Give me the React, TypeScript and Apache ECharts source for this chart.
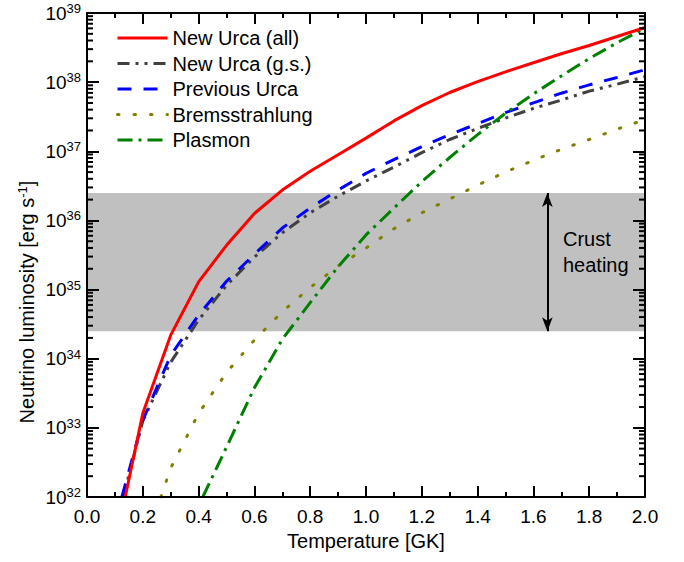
import React, { useEffect, useRef } from "react";
import * as echarts from "echarts";

// Temperature [GK] vs neutrino luminosity [erg s^-1]
const newUrcaAll: [number, number][] = [
  [0.137, 1.0e32], [0.2, 1.62e33], [0.3, 2.19e34], [0.4, 1.29e35], [0.5, 4.37e35],
  [0.6, 1.26e36], [0.7, 2.75e36], [0.8, 5.13e36], [0.9, 8.91e36], [1.0, 1.55e37],
  [1.1, 2.75e37], [1.2, 4.57e37], [1.3, 7.08e37], [1.4, 1.02e38], [1.5, 1.41e38],
  [1.6, 1.91e38], [1.7, 2.57e38], [1.8, 3.39e38], [1.9, 4.57e38], [2.0, 6.17e38],
];
const newUrcaGs: [number, number][] = [
  [0.13, 1.0e32], [0.2, 1.26e33], [0.3, 8.91e33], [0.4, 3.63e34], [0.5, 1.15e35],
  [0.6, 2.95e35], [0.7, 6.61e35], [0.8, 1.29e36], [0.9, 2.24e36], [1.0, 3.72e36],
  [1.1, 5.89e36], [1.2, 9.55e36], [1.3, 1.48e37], [1.4, 2.14e37], [1.5, 3.02e37],
  [1.6, 4.17e37], [1.7, 5.5e37], [1.8, 7.41e37], [1.9, 9.33e37], [2.0, 1.2e38],
];
const previousUrca: [number, number][] = [
  [0.125, 1.0e32], [0.2, 1.29e33], [0.3, 1.12e34], [0.4, 4.27e34], [0.5, 1.32e35],
  [0.6, 3.24e35], [0.7, 7.76e35], [0.8, 1.51e36], [0.9, 2.75e36], [1.0, 4.79e36],
  [1.1, 7.59e36], [1.2, 1.17e37], [1.3, 1.74e37], [1.4, 2.51e37], [1.5, 3.63e37],
  [1.6, 5.01e37], [1.7, 6.92e37], [1.8, 9.12e37], [1.9, 1.17e38], [2.0, 1.51e38],
];
const bremsstrahlung: [number, number][] = [
  [0.265, 1.0e32], [0.3, 2.63e32], [0.4, 1.62e33], [0.5, 6.31e33], [0.6, 1.86e34],
  [0.7, 4.79e34], [0.8, 1.07e35], [0.9, 2.19e35], [1.0, 3.98e35], [1.1, 7.59e35],
  [1.2, 1.29e36], [1.3, 2.04e36], [1.4, 3.24e36], [1.5, 5.01e36], [1.6, 7.41e36],
  [1.7, 1.07e37], [1.8, 1.48e37], [1.9, 2.09e37], [2.0, 2.88e37],
];
const plasmon: [number, number][] = [
  [0.415, 1.0e32], [0.5, 5.25e32], [0.6, 3.8e33], [0.7, 1.91e34], [0.8, 6.46e34],
  [0.9, 2.14e35], [1.0, 6.17e35], [1.1, 1.51e36], [1.2, 3.63e36], [1.3, 8.13e36],
  [1.4, 1.74e37], [1.5, 3.55e37], [1.6, 6.76e37], [1.7, 1.23e38], [1.8, 2.19e38],
  [1.9, 3.72e38], [2.0, 6.03e38],
];

const crustHeatingRange = [2.5e34, 2.5e36];
const crustArrowT = 1.65;
const xRange = [0, 2];
const yRange = [1e32, 1e39];
const seriesNames = ["New Urca (all)", "New Urca (g.s.)", "Previous Urca", "Bremsstrahlung", "Plasmon"];

const FONT = '"Liberation Sans", Arial, Helvetica, sans-serif';

export default function App() {
  const ref = useRef<HTMLDivElement>(null);
  useEffect(() => {
    document.body.style.margin = "0";
    if (!ref.current) return;
    const chart = echarts.init(ref.current, undefined, { renderer: "svg" });

    // minor log ticks 2..9 x 10^k
    const minorTicks: number[][] = [];
    for (let k = 32; k < 39; k++) {
      for (let m = 2; m <= 9; m++) minorTicks.push([0, m * Math.pow(10, k)]);
    }

    const lineBase = { type: "line", symbol: "none", showSymbol: false, z: 4, silent: true };

    const option: any = {
      animation: false,
      grid: { left: 87, top: 13, width: 558, height: 484, containLabel: false },
      legend: {
        orient: "vertical",
        left: 111,
        top: 23,
        itemWidth: 50,
        itemHeight: 20,
        itemGap: 5.5,
        selectedMode: false,
        data: seriesNames,
        itemStyle: { opacity: 0 },
        lineStyle: { width: 3 },
        textStyle: { fontSize: 20, fontFamily: FONT, color: "#000" },
      },
      xAxis: [
        {
          type: "value",
          min: xRange[0],
          max: xRange[1],
          interval: 0.2,
          position: "bottom",
          name: "Temperature [GK]",
          nameLocation: "middle",
          nameGap: 32,
          nameTextStyle: { fontSize: 20, fontFamily: FONT, color: "#000" },
          axisLine: { onZero: false, lineStyle: { color: "#000", width: 2 } },
          axisTick: { inside: true, length: 11, lineStyle: { color: "#000", width: 2 } },
          minorTick: { show: true, splitNumber: 2, length: 5, lineStyle: { color: "#000", width: 2 } },
          axisLabel: {
            fontSize: 19,
            fontFamily: FONT,
            color: "#000",
            margin: 10,
            formatter: (v: number) => v.toFixed(1),
          },
          splitLine: { show: false },
          z: 6,
        },
        {
          type: "value",
          min: xRange[0],
          max: xRange[1],
          interval: 0.2,
          position: "top",
          axisLine: { onZero: false, lineStyle: { color: "#000", width: 2 } },
          axisTick: { inside: true, length: 11, lineStyle: { color: "#000", width: 2 } },
          minorTick: { show: true, splitNumber: 2, length: 5, lineStyle: { color: "#000", width: 2 } },
          axisLabel: { show: false },
          splitLine: { show: false },
          z: 6,
        },
      ],
      yAxis: [
        {
          type: "log",
          logBase: 10,
          min: yRange[0],
          max: yRange[1],
          splitNumber: 7,
          position: "left",
          axisLine: { onZero: false, lineStyle: { color: "#000", width: 2 } },
          axisTick: { inside: true, length: 12, lineStyle: { color: "#000", width: 2 } },
          axisLabel: {
            margin: 6,
            color: "#000",
            fontFamily: FONT,
            formatter: (v: number) => `{a|10}{b|${Math.round(Math.log10(v))}}`,
            rich: {
              a: { fontSize: 19, fontFamily: FONT, color: "#000", lineHeight: 22 },
              b: { fontSize: 13, fontFamily: FONT, color: "#000", verticalAlign: "top", lineHeight: 13, padding: [0, 0, 12, 0] },
            },
          },
          splitLine: { show: false },
          z: 6,
        },
        {
          type: "log",
          logBase: 10,
          min: yRange[0],
          max: yRange[1],
          splitNumber: 7,
          position: "right",
          axisLine: { onZero: false, lineStyle: { color: "#000", width: 2 } },
          axisTick: { inside: true, length: 12, lineStyle: { color: "#000", width: 2 } },
          axisLabel: { show: false },
          splitLine: { show: false },
          z: 6,
        },
      ],
      graphic: [
        {
          type: "text",
          x: 563,
          y: 252,
          z: 10,
          style: {
            text: "Crust\nheating",
            fontSize: 20,
            fontFamily: FONT,
            lineHeight: 26,
            fill: "#000",
            align: "left",
            verticalAlign: "middle",
          },
        },
        {
          type: "text",
          x: 27,
          y: 302,
          rotation: Math.PI / 2,
          z: 10,
          style: {
            text: "{n|Neutrino luminosity [erg s}{s|-1}{n|]}",
            fill: "#000",
            align: "center",
            verticalAlign: "middle",
            rich: {
              n: { fontSize: 20, fontFamily: FONT, fill: "#000", lineHeight: 22 },
              s: { fontSize: 13, fontFamily: FONT, fill: "#000", verticalAlign: "top", lineHeight: 13, padding: [0, 0, 10, 0] },
            },
          },
        },
      ],
      series: [
        {
          type: "line",
          name: "band",
          data: [],
          z: 1,
          silent: true,
          markArea: {
            silent: true,
            itemStyle: { color: "#c0c0c0", opacity: 1 },
            data: [[{ yAxis: crustHeatingRange[0] }, { yAxis: crustHeatingRange[1] }]],
          },
        },
        {
          ...lineBase,
          name: "New Urca (all)",
          data: newUrcaAll,
          z: 5,
          itemStyle: { color: "#ff0000" },
          lineStyle: { color: "#ff0000", width: 3 },
        },
        {
          ...lineBase,
          name: "New Urca (g.s.)",
          data: newUrcaGs,
          itemStyle: { color: "#404040" },
          lineStyle: { color: "#404040", width: 3, type: [12, 6, 3, 6, 3, 6], cap: "butt" },
        },
        {
          ...lineBase,
          name: "Previous Urca",
          data: previousUrca,
          itemStyle: { color: "#0000ff" },
          lineStyle: { color: "#0000ff", width: 3, type: [14, 12] },
        },
        {
          ...lineBase,
          name: "Bremsstrahlung",
          data: bremsstrahlung,
          itemStyle: { color: "#808000" },
          lineStyle: { color: "#808000", width: 3, type: [1.5, 15], cap: "round" },
        },
        {
          ...lineBase,
          name: "Plasmon",
          data: plasmon,
          itemStyle: { color: "#008000" },
          lineStyle: { color: "#008000", width: 3, type: [15, 6, 3, 6] },
        },
        {
          type: "line",
          name: "arrow",
          data: [],
          z: 7,
          silent: true,
          markLine: {
            silent: true,
            symbol: ["arrow", "arrow"],
            symbolSize: [8, 14],
            label: { show: false },
            lineStyle: { color: "#000", width: 2, type: "solid" },
            data: [[{ coord: [crustArrowT, crustHeatingRange[1]] }, { coord: [crustArrowT, crustHeatingRange[0]] }]],
          },
        },
        {
          type: "custom",
          name: "minorTicks",
          data: minorTicks,
          z: 8,
          silent: true,
          clip: false,
          renderItem: (params: any, api: any) => {
            const p = api.coord([0, api.value(1)]);
            const cs = params.coordSys;
            const len = 6;
            const ls = { stroke: "#000", lineWidth: 2 };
            return {
              type: "group",
              children: [
                { type: "line", shape: { x1: cs.x, y1: p[1], x2: cs.x + len, y2: p[1] }, style: ls },
                { type: "line", shape: { x1: cs.x + cs.width - len, y1: p[1], x2: cs.x + cs.width, y2: p[1] }, style: ls },
              ],
            };
          },
        },
      ],
    };
    chart.setOption(option);
    return () => chart.dispose();
  }, []);
  return <div ref={ref} style={{ width: 684, height: 562 }} />;
}
